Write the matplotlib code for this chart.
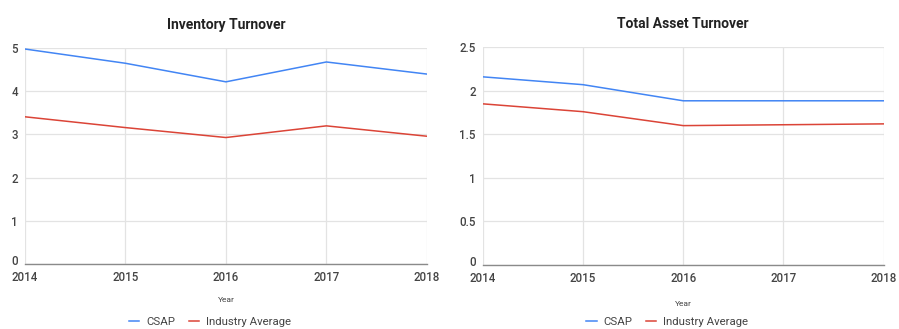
import matplotlib
matplotlib.use("Agg")
import matplotlib.pyplot as plt
import matplotlib.transforms as mtransforms

plt.rcParams['font.family'] = ['Roboto', 'DejaVu Sans']

years = [2014, 2015, 2016, 2017, 2018]

inv_csap = [4.98, 4.65, 4.22, 4.68, 4.40]
inv_industry = [3.41, 3.16, 2.93, 3.20, 2.96]

tat_csap = [2.16, 2.07, 1.885, 1.885, 1.885]
tat_industry = [1.85, 1.76, 1.60, 1.61, 1.62]

inv_yticks = [0, 1, 2, 3, 4, 5]
tat_yticks = [0, 0.5, 1, 1.5, 2, 2.5]
tat_ylabels = ['0', '0.5', '1', '1.5', '2', '2.5']

BLUE = '#4285f4'
RED = '#db4437'
GRID = '#e3e3e3'
TEXT = '#444444'

fig = plt.figure(figsize=(8.99, 3.29), dpi=100)
ax1 = fig.add_axes([0.0278, 0.1976, 0.447, 0.656])
ax2 = fig.add_axes([0.537, 0.1945, 0.446, 0.662])


def style(ax, title, yticks, ylabels, legend_y, xlabel_y):
    ax.set_xlim(years[0], years[-1])
    ax.set_ylim(yticks[0], yticks[-1])
    ax.set_xticks(years)
    ax.set_xticklabels([str(y) for y in years])
    ax.set_yticks(yticks)
    ax.set_yticklabels(ylabels)
    ax.grid(True, color=GRID, linewidth=0.9)
    ax.set_axisbelow(True)
    for side in ('top', 'right', 'left'):
        ax.spines[side].set_visible(False)
    ax.spines['bottom'].set_color('#8a8a8a')
    ax.spines['bottom'].set_linewidth(1.0)
    ax.tick_params(axis='both', length=0, labelsize=8.3, colors=TEXT)
    ax.tick_params(axis='x', pad=5)
    ax.tick_params(axis='y', pad=5)
    for lbl in ax.get_xticklabels() + ax.get_yticklabels():
        lbl.set_fontweight('medium')
    # lift the zero label so it sits just above the first year label
    zero = ax.get_yticklabels()[0]
    zero.set_transform(zero.get_transform() +
                       mtransforms.ScaledTranslation(0, 3 / 72, fig.dpi_scale_trans))
    ax.set_title(title, fontsize=10, fontweight='bold', color='#222222', pad=14)
    ax.text(0.5, xlabel_y, 'Year', transform=ax.transAxes, ha='center',
            va='center', fontsize=6, color=TEXT)
    leg = ax.legend(loc='center', bbox_to_anchor=(0.46, legend_y), ncol=2,
                    frameon=False, fontsize=8.2, handlelength=0.9,
                    handletextpad=0.6, columnspacing=1.2)
    for t in leg.get_texts():
        t.set_color(TEXT)


ax1.plot(years, inv_csap, color=BLUE, linewidth=1.1, label='CSAP')
ax1.plot(years, inv_industry, color=RED, linewidth=1.1, label='Industry Average')
style(ax1, 'Inventory Turnover', inv_yticks, [str(v) for v in inv_yticks], -0.27, -0.165)

ax2.plot(years, tat_csap, color=BLUE, linewidth=1.1, label='CSAP')
ax2.plot(years, tat_industry, color=RED, linewidth=1.1, label='Industry Average')
style(ax2, 'Total Asset Turnover', tat_yticks, tat_ylabels, -0.262, -0.18)

fig.savefig('out.png', dpi=100, facecolor='white')
